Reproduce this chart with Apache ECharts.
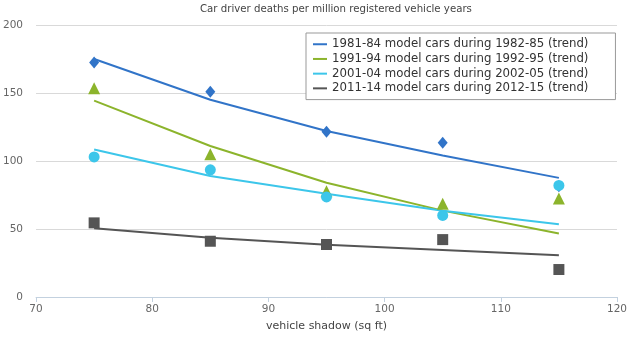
<!DOCTYPE html>
<html>
<head>
<meta charset="utf-8">
<script src="https://cdn.jsdelivr.net/npm/echarts@6/dist/echarts.min.js"></script>
<style>
html,body{margin:0;padding:0;background:#fff;}
#chart{width:630px;height:337px;}
</style>
</head>
<body>
<div id="chart"></div>
<script>
var titleText = 'Car driver deaths per million registered vehicle years';
var xAxisName = 'vehicle shadow (sq ft)';
var xValues = [75, 85, 95, 105, 115];
var seriesNames = [
  '1981-84 model cars during 1982-85 (trend)',
  '1991-94 model cars during 1992-95 (trend)',
  '2001-04 model cars during 2002-05 (trend)',
  '2011-14 model cars during 2012-15 (trend)'
];
// observed points
var obs8185 = [172.5, 151, 121.5, 113.5, 81.5];
var obs9195 = [153.5, 105, 77.7, 68.5, 72.4];
var obs0105 = [103, 93.5, 73.6, 60, 82];
var obs1115 = [54.5, 41, 38.6, 42.2, 20.2];
// trend lines
var trend8185 = [175, 145, 122, 104, 87.6];
var trend9195 = [144.4, 111, 84, 63.5, 46.7];
var trend0105 = [108.4, 89, 76, 63.5, 53.5];
var trend1115 = [50.5, 43.5, 38.5, 34.5, 30.7];

var colors = ['#3174c8', '#8cb42c', '#3cc6ea', '#555555'];
var symbols = ['diamond', 'triangle', 'circle', 'rect'];
var symSizes = [[10, 12], 12, 11, 11];
var obsAll = [obs8185, obs9195, obs0105, obs1115];
var trendAll = [trend8185, trend9195, trend0105, trend1115];

function pairs(arr){ return xValues.map(function(x,i){ return [x, arr[i]]; }); }

var series = [];
for (var i = 0; i < 4; i++) {
  series.push({
    name: seriesNames[i], type: 'line', data: pairs(trendAll[i]),
    showSymbol: false, symbol: 'none', smooth: false,
    lineStyle: {color: colors[i], width: 2}, itemStyle: {color: colors[i]},
    z: 2
  });
}
for (var j = 0; j < 4; j++) {
  series.push({
    name: 'obs' + j, type: 'scatter', data: pairs(obsAll[j]),
    symbol: symbols[j], symbolSize: symSizes[j],
    itemStyle: {color: colors[j], opacity: 1}, z: 3 + j
  });
}

var chart = echarts.init(document.getElementById('chart'), null, {renderer: 'canvas'});
chart.setOption({
  animation: false,
  backgroundColor: '#fff',
  title: {
    text: titleText, left: 195, top: -1,
    textStyle: {fontFamily: 'DejaVu Sans', fontSize: 10.2, fontWeight: 'normal', color: '#444'}
  },
  legend: {
    data: seriesNames, orient: 'vertical', left: 306, top: 33,
    padding: [5, 27, 5, 7], itemGap: 2.2, itemWidth: 14, itemHeight: 2,
    icon: 'rect', borderColor: '#999', borderWidth: 1, backgroundColor: '#fff',
    textStyle: {fontFamily: 'DejaVu Sans', fontSize: 11.75, color: '#333', lineHeight: 12.5}
  },
  grid: {left: 34, right: 13, top: 25, bottom: 39.5, containLabel: false},
  xAxis: {
    type: 'value', min: 70, max: 120, interval: 10,
    name: xAxisName, nameLocation: 'middle', nameGap: 24,
    nameTextStyle: {fontFamily: 'DejaVu Sans', fontSize: 11, color: '#444'},
    axisLine: {show: true, lineStyle: {color: '#c3d1df'}},
    axisTick: {show: true, length: 5, lineStyle: {color: '#c3d1df'}},
    axisLabel: {fontFamily: 'DejaVu Sans', fontSize: 10.5, color: '#666', margin: 7},
    splitLine: {show: false}
  },
  yAxis: {
    type: 'value', min: 0, max: 200, interval: 50,
    axisLine: {show: false}, axisTick: {show: false},
    axisLabel: {fontFamily: 'DejaVu Sans', fontSize: 10.5, color: '#666', margin: 13},
    splitLine: {lineStyle: {color: '#d9d9d9', width: 1}}
  },
  series: series
});
</script>
</body>
</html>
